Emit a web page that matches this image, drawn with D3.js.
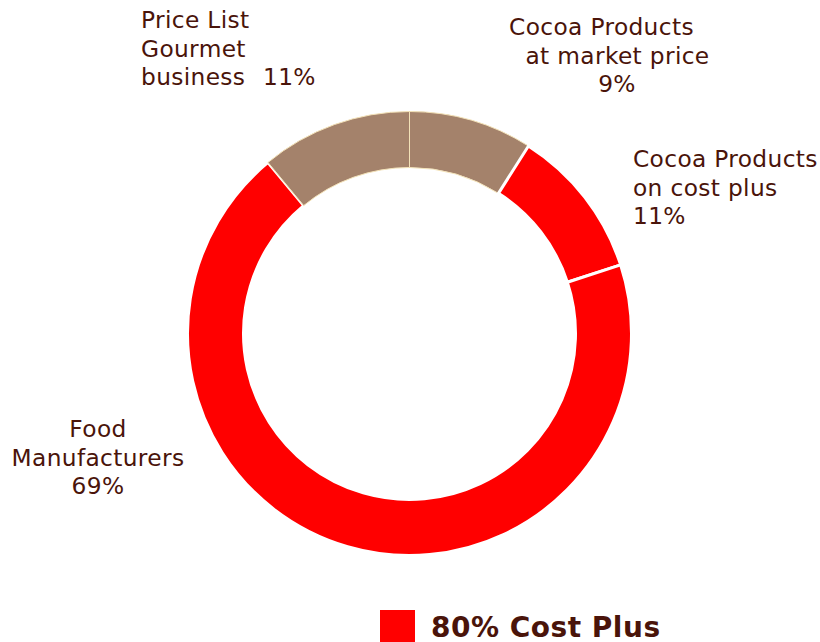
<!DOCTYPE html>
<html>
<head>
<meta charset="utf-8">
<script src="https://cdn.jsdelivr.net/npm/d3@7"></script>
<style>
  html, body { margin: 0; padding: 0; background: #fff; }
  svg { display: block; }
  text { font-family: "DejaVu Sans", Verdana, sans-serif; fill: #4a140a; }
</style>
</head>
<body>
<script>
// Revenue split by business segment (percent), clockwise from 12 o'clock
const segments = ["Cocoa Products at market price", "Cocoa Products on cost plus", "Food Manufacturers", "Price List Gourmet business"];
const shares = [9, 11, 69, 11];
const groups = ["other", "costplus", "costplus", "other"];
const labelLines = [
  ["Cocoa Products", "at market price", "9%"],
  ["Cocoa Products", "on cost plus", "11%"],
  ["Food", "Manufacturers", "69%"],
  ["Price List", "Gourmet", "business"]
];
const legendLabel = "80% Cost Plus";

const W = 820, H = 642;
const cx = 409.5, cy = 333.5, rOuter = 222, rInner = 166;

const fill = d3.scaleOrdinal().domain(["costplus", "other"]).range(["#ff0000", "#a4826b"]);

const svg = d3.select("body").append("svg").attr("width", W).attr("height", H);

const pie = d3.pie().sort(null).value(d => d.value);
const arc = d3.arc().innerRadius(rInner).outerRadius(rOuter);

const data = shares.map((v, i) => ({ name: segments[i], value: v, group: groups[i] }));
const arcs = pie(data);

const g = svg.append("g").attr("transform", `translate(${cx},${cy})`);
g.selectAll("path")
  .data(arcs)
  .join("path")
  .attr("d", arc)
  .attr("fill", d => fill(d.data.group))
  .attr("stroke", d => d.data.group === "costplus" ? "#ffffff" : "#f3e2b8")
  .attr("stroke-width", d => d.data.group === "costplus" ? 3 : 1)
  .attr("stroke-linejoin", "round");

// Segment labels placed around the ring
const fs = 23.3, lh = 28.5;
const labelSpec = [
  { anchor: "middle", xs: [601.5, 617.5, 617], y: 35 },
  { anchor: "start", xs: [633, 633, 633], y: 167 },
  { anchor: "middle", xs: [98, 98, 98], y: 437 },
  { anchor: "start", xs: [141, 141, 141], y: 28 }
];
const labels = labelLines.map((lines, i) => {
  const s = labelSpec[i];
  const t = svg.append("text")
    .attr("font-size", fs)
    .attr("letter-spacing", 0.35)
    .attr("text-anchor", s.anchor);
  lines.forEach((ln, j) => {
    t.append("tspan").attr("x", s.xs[j]).attr("y", s.y + j * lh).text(ln);
  });
  return t;
});
// share of the gourmet segment sits on the last line, after a gap
labels[3].append("tspan").attr("x", 263).attr("y", labelSpec[3].y + 2 * lh).text(shares[3] + "%");

// Legend
const lg = svg.append("g");
lg.append("rect").attr("x", 380).attr("y", 610).attr("width", 35).attr("height", 32).attr("fill", fill("costplus"));
lg.append("text").attr("x", 431).attr("y", 637).attr("font-size", 28).attr("letter-spacing", 0.5)
  .attr("font-weight", "bold").text(legendLabel);
</script>
</body>
</html>
